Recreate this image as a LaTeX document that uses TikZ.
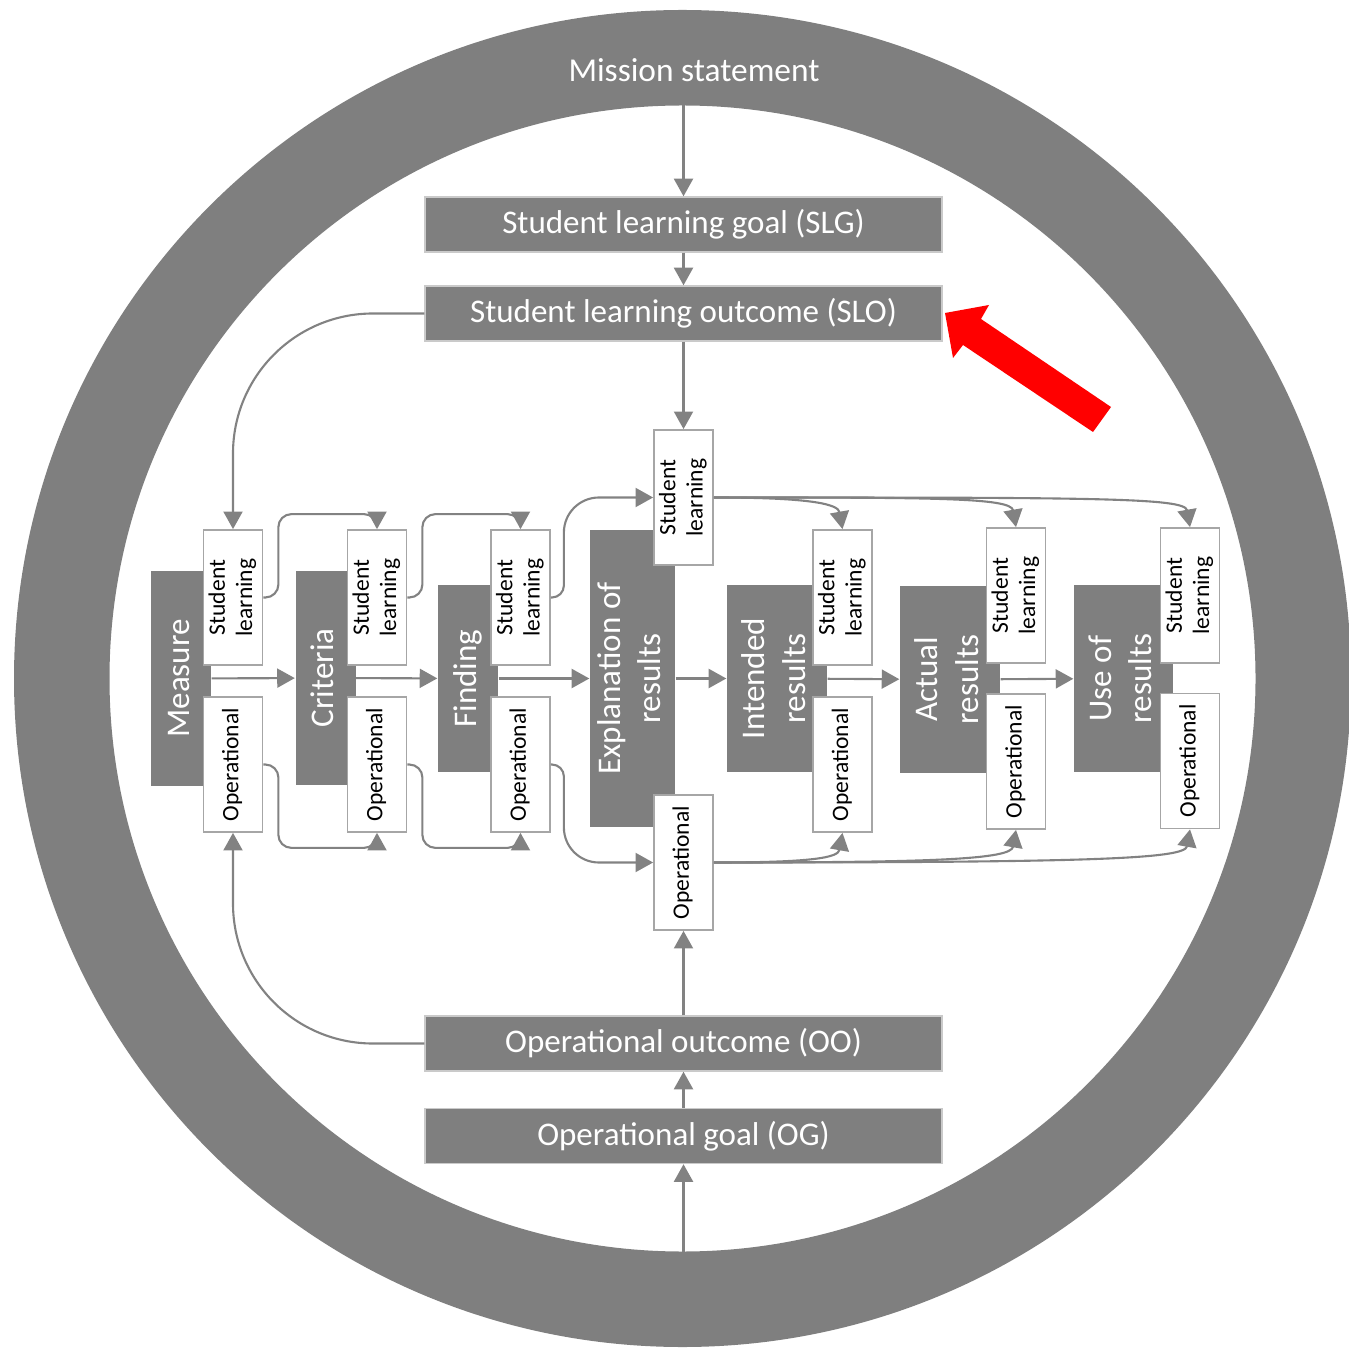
\documentclass[tikz,border=0pt]{standalone}
\usepackage{fontspec}
\setmainfont{Carlito}
\usepackage{graphicx}
\usetikzlibrary{arrows.meta}

\definecolor{ringgray}{HTML}{7F7F7F}
\definecolor{linegray}{HTML}{828282}
\definecolor{edgegray}{HTML}{A6A6A6}

\newcommand{\vlabel}[1]{\rotatebox{90}{\begin{tabular}{@{}c@{}}#1\end{tabular}}}

\begin{document}
\begin{tikzpicture}
\tikzstyle{level}=[rectangle, draw=edgegray!60, fill=ringgray, text=white, line width=0.4pt, minimum width=5.17cm, minimum height=0.55cm, inner sep=0pt, font=\fontsize{9.4}{11}\selectfont];
\tikzstyle{stage}=[rectangle, fill=ringgray, text=white, inner sep=0pt, font=\fontsize{9.4}{11.5}\selectfont];
\tikzstyle{facet}=[rectangle, draw=edgegray, fill=white, line width=0.5pt, minimum width=0.59cm, minimum height=1.35cm, inner sep=0pt, font=\fontsize{6.7}{7.8}\selectfont];
\tikzstyle{arrow}=[-{Triangle[length=5pt, width=5.4pt]}, draw=linegray, line width=0.6pt];
\tikzstyle{pointer}=[fill=red];

\useasboundingbox (0,0) rectangle (13.48,-13.49);

% ring
\fill[ringgray, even odd rule] (6.825,-6.785) circle (6.685) (6.825,-6.785) circle (5.73);
\node [text=white, font=\fontsize{9.5}{11}\selectfont] at (6.94,-0.70) (Mission) {Mission statement};
\coordinate (Ring Top) at (6.835,-1.05);
\coordinate (Ring Bottom) at (6.835,-12.52);

\node [level] at (6.835,-2.245) (SLG) {Student learning goal (SLG)};
\node [level] at (6.835,-3.135) (SLO) {Student learning outcome (SLO)};
\node [level] at (6.835,-10.435) (OO) {Operational outcome (OO)};
\node [level] at (6.835,-11.36) (OG) {Operational goal (OG)};

\node [stage, minimum width=0.60cm, minimum height=2.15cm] at (1.81,-6.785) (Measure) {\vlabel{Measure}};
\node [stage, minimum width=0.60cm, minimum height=2.14cm] at (3.255,-6.78) (Criteria) {\vlabel{Criteria}};
\node [stage, minimum width=0.60cm, minimum height=1.87cm] at (4.68,-6.785) (Finding) {\vlabel{Finding}};
\node [stage, minimum width=0.85cm, minimum height=2.97cm] at (6.325,-6.785) (Explanation) {\vlabel{Explanation of\\results}};
\node [stage, minimum width=1.00cm, minimum height=1.87cm] at (7.77,-6.785) (Intended) {\vlabel{Intended\\results}};
\node [stage, minimum width=1.00cm, minimum height=1.87cm] at (9.50,-6.795) (Actual) {\vlabel{Actual\\results}};
\node [stage, minimum width=0.99cm, minimum height=1.87cm] at (11.235,-6.785) (Use) {\vlabel{Use of\\results}};

\node [facet] at (2.33,-5.975) (Measure SL) {\vlabel{Student\\learning}};
\node [facet] at (2.33,-7.645) (Measure OP) {\vlabel{Operational}};
\node [facet] at (3.77,-5.975) (Criteria SL) {\vlabel{Student\\learning}};
\node [facet] at (3.77,-7.645) (Criteria OP) {\vlabel{Operational}};
\node [facet] at (5.205,-5.975) (Finding SL) {\vlabel{Student\\learning}};
\node [facet] at (5.205,-7.645) (Finding OP) {\vlabel{Operational}};
\node [facet] at (6.835,-4.975) (Explanation SL) {\vlabel{Student\\learning}};
\node [facet] at (6.835,-8.625) (Explanation OP) {\vlabel{Operational}};
\node [facet] at (8.425,-5.975) (Intended SL) {\vlabel{Student\\learning}};
\node [facet] at (8.425,-7.645) (Intended OP) {\vlabel{Operational}};
\node [facet] at (10.16,-5.955) (Actual SL) {\vlabel{Student\\learning}};
\node [facet] at (10.16,-7.615) (Actual OP) {\vlabel{Operational}};
\node [facet] at (11.90,-5.955) (Use SL) {\vlabel{Student\\learning}};
\node [facet] at (11.90,-7.61) (Use OP) {\vlabel{Operational}};

% pointer
\fill[pointer] (9.45,-3.13) -- (9.89,-3.05) -- (9.81,-3.19) -- (11.11,-4.07) -- (10.93,-4.32) -- (9.63,-3.45) -- (9.53,-3.58) -- cycle;

\draw[arrow] (Ring Top) -- (SLG);
\draw[arrow] (SLG) -- (SLO);
\draw[arrow] (SLO) -- (Explanation SL);
\draw[arrow] (Ring Bottom) -- (OG);
\draw[arrow] (OG) -- (OO);
\draw[arrow] (OO) -- (Explanation OP);

\draw[arrow, rounded corners=1.4cm] (SLO.west) -| (Measure SL.north);
\draw[arrow, rounded corners=1.4cm] (OO.west) -| (Measure OP.south);

\draw[arrow] (Measure) -- (Criteria);
\draw[arrow] (Criteria) -- (Finding);
\draw[arrow] (Finding) -- (Explanation);
\draw[arrow] (Explanation) -- (Intended);
\draw[arrow] (Intended) -- (Actual);
\draw[arrow] (Actual) -- (Use);

\draw[arrow, rounded corners=1.3mm] (Measure SL.east) -- ++(0.15,0) |- ([yshift=1.5mm]Criteria SL.north) -- (Criteria SL.north);
\draw[arrow, rounded corners=1.3mm] (Measure OP.east) -- ++(0.15,0) |- ([yshift=-1.5mm]Criteria OP.south) -- (Criteria OP.south);
\draw[arrow, rounded corners=1.3mm] (Criteria SL.east) -- ++(0.15,0) |- ([yshift=1.5mm]Finding SL.north) -- (Finding SL.north);
\draw[arrow, rounded corners=1.3mm] (Criteria OP.east) -- ++(0.15,0) |- ([yshift=-1.5mm]Finding OP.south) -- (Finding OP.south);
\draw[arrow, rounded corners=1.2mm] (Finding SL.east) -- ++(0.13,0) [rounded corners=3.5mm] -- ++(0,1.0) -- (Explanation SL.west);
\draw[arrow, rounded corners=1.2mm] (Finding OP.east) -- ++(0.13,0) [rounded corners=3.5mm] -- ++(0,-0.98) -- (Explanation OP.west);

\draw[arrow] (Explanation SL.east) .. controls +(0:1.0) and +(100:0.25) .. (Intended SL.north);
\draw[arrow] (Explanation SL.east) .. controls +(0:2.2) and +(100:0.3) .. (Actual SL.north);
\draw[arrow] (Explanation SL.east) .. controls +(0:3.8) and +(100:0.3) .. (Use SL.north);
\draw[arrow] (Explanation OP.east) .. controls +(0:1.0) and +(-100:0.25) .. (Intended OP.south);
\draw[arrow] (Explanation OP.east) .. controls +(0:2.2) and +(-100:0.3) .. (Actual OP.south);
\draw[arrow] (Explanation OP.east) .. controls +(0:3.8) and +(-100:0.3) .. (Use OP.south);

\end{tikzpicture}
\end{document}
